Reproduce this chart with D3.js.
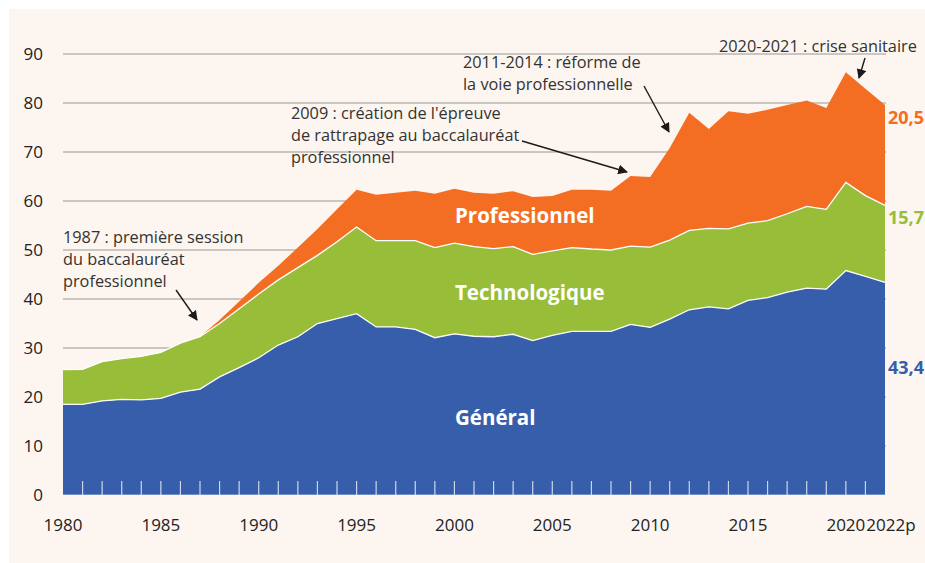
<!DOCTYPE html>
<html>
<head>
<meta charset="utf-8">
<script src="https://cdn.jsdelivr.net/npm/d3@7"></script>
<style>
  body { margin: 0; background: #fff; }
  svg { display: block; font-family: "Open Sans", sans-serif; }
</style>
</head>
<body>
<script>
// years and shares (in %)
const years = d3.range(1980, 2023);
const general = [
  18.5, 18.5, 19.2, 19.5, 19.4, 19.7, 21.0, 21.6, 24.1, 26.0,
  28.0, 30.6, 32.3, 35.0, 36.0, 37.0, 34.3, 34.3, 33.8, 32.1,
  32.9, 32.4, 32.3, 32.8, 31.5, 32.6, 33.4, 33.4, 33.4, 34.8,
  34.2, 35.9, 37.8, 38.4, 38.0, 39.7, 40.3, 41.4, 42.2, 42.0,
  45.8, 44.6, 43.4
];
const techno = [
  7.1, 7.15, 8.0, 8.35, 8.9, 9.4, 10.0, 10.7, 10.9, 12.0,
  13.0, 13.3, 14.1, 13.9, 15.7, 17.7, 17.6, 17.6, 18.1, 18.4,
  18.5, 18.3, 18.0, 17.9, 17.6, 17.2, 17.1, 16.8, 16.6, 16.0,
  16.4, 16.1, 16.2, 16.0, 16.3, 15.8, 15.7, 16.0, 16.7, 16.3,
  18.0, 16.5, 15.7
];
const pro = [
  0, 0, 0, 0, 0, 0, 0, 0, 0.7, 1.5,
  2.3, 2.9, 4.1, 5.4, 6.6, 7.6, 9.4, 9.8, 10.2, 11.0,
  11.1, 11.0, 11.2, 11.3, 11.7, 11.2, 11.8, 12.1, 12.1, 14.3,
  14.3, 18.8, 24.0, 20.3, 24.0, 22.3, 22.6, 22.2, 21.6, 20.7,
  22.5, 21.8, 20.5
];
const yTicks = [0, 10, 20, 30, 40, 50, 60, 70, 80, 90];
const xTicks = [1980, 1985, 1990, 1995, 2000, 2005, 2010, 2015, 2020, 2022];
const keys = ["general", "techno", "pro"];
const colors = { general: "#375eaa", techno: "#98bd38", pro: "#f36d22" };
const seriesLabels = { general: "Général", techno: "Technologique", pro: "Professionnel" };
const endLabels = { general: "43,4", techno: "15,7", pro: "20,5" };

const annotations = [
  { lines: ["1987 : première session", "du baccalauréat", "professionnel"], x: 63, y: 243, from: [176, 290], to: [197, 320] },
  { lines: ["2009 : création de l'épreuve", "de rattrapage au baccalauréat", "professionnel"], x: 291, y: 119, from: [522, 141], to: [627, 172] },
  { lines: ["2011-2014 : réforme de", "la voie professionnelle"], x: 463, y: 68, from: [644, 86], to: [669, 132] },
  { lines: ["2020-2021 : crise sanitaire"], x: 719, y: 52, from: [865, 58], to: [859, 78] }
];

const width = 925, height = 563;
const margin = { top: 54, right: 40, bottom: 68, left: 63 };

const data = years.map((yr, i) => ({ year: yr, general: general[i], techno: techno[i], pro: pro[i] }));
const stacked = d3.stack().keys(keys)(data);

const x = d3.scaleLinear().domain([1980, 2022]).range([margin.left, width - margin.right]);
const y = d3.scaleLinear().domain([0, 90]).range([height - margin.bottom, margin.top]);

const svg = d3.select("body").append("svg").attr("width", width).attr("height", height);

svg.append("rect")
  .attr("x", 9).attr("y", 9)
  .attr("width", width - 9).attr("height", height - 9)
  .attr("fill", "#fdf5ef");

// gridlines
svg.append("g")
  .selectAll("line")
  .data(yTicks.slice(1))
  .join("line")
  .attr("x1", x(1980)).attr("x2", x(2022) + 1)
  .attr("y1", d => y(d)).attr("y2", d => y(d))
  .attr("stroke", "#b9b7b5")
  .attr("stroke-width", 1.5);

const area = d3.area()
  .x(d => x(d.data.year))
  .y0(d => y(d[0]))
  .y1(d => y(d[1]));

svg.append("g")
  .selectAll("path")
  .data(stacked)
  .join("path")
  .attr("fill", d => colors[d.key])
  .attr("d", area);

// white separator lines between layers
const line = d3.line().x(d => x(d.data.year)).y(d => y(d[1]));
svg.append("g")
  .selectAll("path")
  .data(stacked.slice(0, 2))
  .join("path")
  .attr("fill", "none")
  .attr("stroke", "#fff")
  .attr("stroke-width", 1.3)
  .attr("d", line);

// year ticks drawn inside the area
svg.append("g")
  .selectAll("line")
  .data(years.slice(1, -1))
  .join("line")
  .attr("x1", d => x(d)).attr("x2", d => x(d))
  .attr("y1", y(0) - 14).attr("y2", y(0))
  .attr("stroke", "#fff")
  .attr("stroke-opacity", 0.75)
  .attr("stroke-width", 1.2);

svg.append("line")
  .attr("x1", x(1980)).attr("x2", x(2022))
  .attr("y1", y(0)).attr("y2", y(0))
  .attr("stroke", "#fff").attr("stroke-opacity", 0.6);

// y axis labels
svg.append("g")
  .selectAll("text")
  .data(yTicks)
  .join("text")
  .attr("x", 43)
  .attr("y", d => y(d))
  .attr("dy", "0.35em")
  .attr("text-anchor", "end")
  .attr("font-size", 17)
  .attr("fill", "#222")
  .text(d => d);

// x axis labels
svg.append("g")
  .selectAll("text")
  .data(xTicks)
  .join("text")
  .attr("x", d => x(d) + (d === 2022 ? 6 : 0))
  .attr("y", 525)
  .attr("dy", "0.35em")
  .attr("text-anchor", "middle")
  .attr("font-size", 17)
  .attr("fill", "#222")
  .text(d => d === 2022 ? "2022p" : d);

// series names
const namePos = { pro: [455, 216], techno: [455, 293], general: [455, 418] };
svg.append("g")
  .selectAll("text")
  .data(keys)
  .join("text")
  .attr("x", d => namePos[d][0])
  .attr("y", d => namePos[d][1])
  .attr("dy", "0.35em")
  .attr("font-size", 20.5)
  .attr("font-weight", 700)
  .attr("fill", "#fff")
  .text(d => seriesLabels[d]);

// end values
const endY = { pro: 118, techno: 218, general: 368 };
svg.append("g")
  .selectAll("text")
  .data(keys)
  .join("text")
  .attr("x", x(2022) + 3)
  .attr("y", d => endY[d])
  .attr("dy", "0.35em")
  .attr("font-size", 18)
  .attr("font-weight", 700)
  .attr("fill", d => colors[d])
  .text(d => endLabels[d]);

// annotations
svg.append("defs").append("marker")
  .attr("id", "arrow")
  .attr("viewBox", "0 0 10 10")
  .attr("refX", 9).attr("refY", 5)
  .attr("markerWidth", 7).attr("markerHeight", 7)
  .attr("orient", "auto")
  .append("path")
  .attr("d", "M0,0L10,5L0,10z")
  .attr("fill", "#1a1a1a");

const ann = svg.append("g");
annotations.forEach(a => {
  const t = ann.append("text")
    .attr("font-size", 16.3)
    .attr("fill", "#333");
  a.lines.forEach((l, i) => {
    t.append("tspan").attr("x", a.x).attr("y", a.y + i * 22).text(l);
  });
  ann.append("line")
    .attr("x1", a.from[0]).attr("y1", a.from[1])
    .attr("x2", a.to[0]).attr("y2", a.to[1])
    .attr("stroke", "#1a1a1a")
    .attr("stroke-width", 1.4)
    .attr("marker-end", "url(#arrow)");
});
</script>
</body>
</html>
